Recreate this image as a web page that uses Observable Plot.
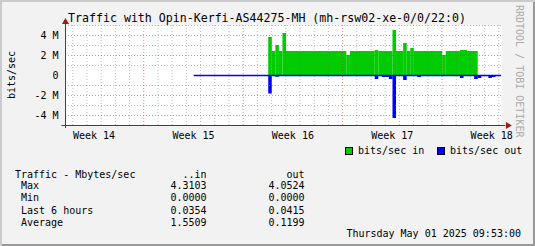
<!DOCTYPE html>
<html><head><meta charset="utf-8">
<script src="https://cdn.jsdelivr.net/npm/d3@7"></script>
<script src="https://cdn.jsdelivr.net/npm/@observablehq/plot@0.6"></script>
<style>
html,body{margin:0;padding:0;background:#f2f2f2;}
#wrap{position:relative;width:535px;height:246px;background:#f2f2f2;box-shadow:inset 2px 2px 0 #cbcbcb, inset -2px -2px 0 #999;overflow:hidden;}
#wrap svg{position:absolute;left:0;top:0;}
</style></head>
<body><div id="wrap"></div>
<script>
// ---- data (x in days since Mon 31 Mar 2025 = start of Week 14; y in Mbit/s) ----
const weekLabels = ["Week 14","Week 15","Week 16","Week 17","Week 18"];
const weekLabelDays = [3.5,10.5,17.5,24.5,31.5];
const weekStartDays = [7,14,21,28];
const yTicks = [-4,-2,0,2,4];
const yTickLabels = ["-4 M","-2 M","0","2 M","4 M"];
const yMinor = [-5,-3,-1,1,3,5];

const inStart = [15.8,16.05,16.3,16.55,16.8,17.05,21.3,21.55,23.3,23.55,24.55,24.8,25.3,25.55,25.8,26.05,28.05,28.3,29.3,29.8];
const inMbps  = [3.8, 2.4, 3.0, 2.4, 4.2, 2.4, 2.0, 2.4, 2.5, 2.4, 4.5, 2.4, 3.2, 2.4, 2.7, 2.4, 2.0, 2.4, 2.5, 2.4];
const inEnd = 30.55;

const outStart = [10.55,15.8,16.05,16.3,16.55,23.3,23.55,23.8,24.3,24.55,24.8,25.3,25.55,26.3,26.55,29.3,29.55,30.3,30.55,30.8,31.3,31.55,31.8];
const outMbps  = [0,-1.85,0,-0.17,0,-0.4,0,-0.2,-0.4,-4.3,0,-0.5,0,-0.2,0,-0.3,0,-0.4,-0.3,0,-0.3,-0.2,0];
const outEnd = 32.19;

const statRows = ["Max","Min","Last 6 hours","Average"];
const statIn  = ["4.3103","0.0000","0.0354","1.5509"];
const statOut = ["4.0524","0.0000","0.0415","0.1199"];

const titleText = "Traffic with Opin-Kerfi-AS44275-MH (mh-rsw02-xe-0/0/22:0)";
const dateText = "Thursday May 01 2025 09:53:00";
const legendItems = [{label:"bits/sec in", color:"#00cc00"},{label:"bits/sec out", color:"#0000ff"}];

// ---- build ----
const xMin = 1.49, xMax = 32.19;
const seg = (starts, vals, end) => starts.map((s,i)=>({x1:s, x2: i+1<starts.length ? starts[i+1] : end, v: vals[i]}));
const inSeg = seg(inStart, inMbps, inEnd);
const outSeg = seg(outStart, outMbps, outEnd);
const dayLines = d3.range(Math.ceil(xMin), Math.floor(xMax)+1).filter(d => !weekStartDays.includes(d));
const FONT = "DejaVu Sans Mono";
const GRID = "rgba(110,110,110,0.45)", MGRID = "rgba(220,40,40,0.55)";

const chart = Plot.plot({
  width: 535, height: 246,
  marginLeft: 65, marginRight: 34, marginTop: 25, marginBottom: 121,
  x: {domain: [xMin, xMax], axis: null},
  y: {domain: [-5, 5], axis: null},
  style: {background: "transparent", overflow: "visible", fontFamily: FONT},
  marks: [
    Plot.frame({fill: "white", stroke: "none"}),
    Plot.rect(inSeg, {x1:"x1", x2:"x2", y1: 0, y2:"v", fill:"#00cc00"}),
    Plot.rect(outSeg, {x1:"x1", x2:"x2", y1: 0, y2:"v", fill:"#0000ff"}),
    Plot.ruleY([0], {x1: outStart[0], x2: outEnd, stroke:"#0000ff", strokeWidth: 1.5}),
    Plot.ruleX(dayLines, {stroke:GRID, strokeDasharray:"1,2", strokeWidth:1}),
    Plot.ruleY(yMinor, {stroke:GRID, strokeDasharray:"1,2", strokeWidth:1}),
    Plot.ruleX(weekStartDays, {stroke:MGRID, strokeDasharray:"1,2", strokeWidth:1}),
    Plot.ruleY(yTicks.filter(d => d !== 0), {stroke:MGRID, strokeDasharray:"1,2", strokeWidth:1}),
    // axes
    Plot.ruleY([-5], {x1: xMin - 0.25, x2: xMax + 0.3, stroke:"#404040", strokeWidth:1}),
    Plot.ruleX([xMin], {y1: -5.3, y2: 5.3, stroke:"#404040", strokeWidth:1}),
    Plot.dot([0], {x: xMin, y: 5.35, symbol:"triangle", r: 2.6, fill:"#a01818", stroke:"none"}),
    Plot.dot([0], {x: xMax + 0.45, y: -5, symbol:"triangle", r: 2.6, rotate: 90, fill:"#a01818", stroke:"none"}),
    // tick labels
    Plot.text(yTicks, {x: xMin, y: d=>d, text: (d,i)=>yTickLabels[i], textAnchor:"end", dx:-7, fontSize:10, fontFamily:FONT, fill:"black"}),
    Plot.text(weekLabelDays, {x: d=>d, y: -5, text: (d,i)=>weekLabels[i], dy: 10, fontSize:10, fontFamily:FONT, fill:"black"})
  ]
});
const wrap = document.getElementById("wrap");
wrap.appendChild(chart);

const svg = d3.select(chart);
const g = svg.append("g").attr("font-family", FONT).attr("font-size", 10).attr("fill", "black").attr("text-anchor", "start");
g.append("text").attr("x", 267).attr("y", 21.5).attr("text-anchor","middle").attr("font-size", 11.6).text(titleText);
g.append("text").attr("transform","translate(15,75) rotate(-90)").attr("text-anchor","middle").text("bits/sec");
g.append("text").attr("transform","translate(516,5) rotate(90)").attr("text-anchor","start").attr("fill","#aaaaaa").text("RRDTOOL / TOBI OETIKER");
// legend
const lx = [345, 437];
legendItems.forEach((it,i)=>{
  g.append("rect").attr("x", lx[i]+0.5).attr("y", 147.5).attr("width", 7).attr("height", 7).attr("fill", it.color).attr("stroke","black").attr("stroke-width",1);
  g.append("text").attr("x", lx[i]+13).attr("y", 154.3).text(it.label);
});
// stats
g.append("text").attr("x", 15).attr("y", 177.5).text("Traffic - Mbytes/sec");
g.append("text").attr("x", 206.5).attr("y", 177.5).attr("text-anchor","end").text("..in");
g.append("text").attr("x", 304.5).attr("y", 177.5).attr("text-anchor","end").text("out");
const rowY = [189, 201.3, 213.5, 225.7];
statRows.forEach((r,i)=>{
  g.append("text").attr("x", 21).attr("y", rowY[i]).text(r);
  g.append("text").attr("x", 206.5).attr("y", rowY[i]).attr("text-anchor","end").text(statIn[i]);
  g.append("text").attr("x", 304.5).attr("y", rowY[i]).attr("text-anchor","end").text(statOut[i]);
});
g.append("text").attr("x", 521).attr("y", 236.6).attr("text-anchor","end").text(dateText);
</script>
</body></html>
